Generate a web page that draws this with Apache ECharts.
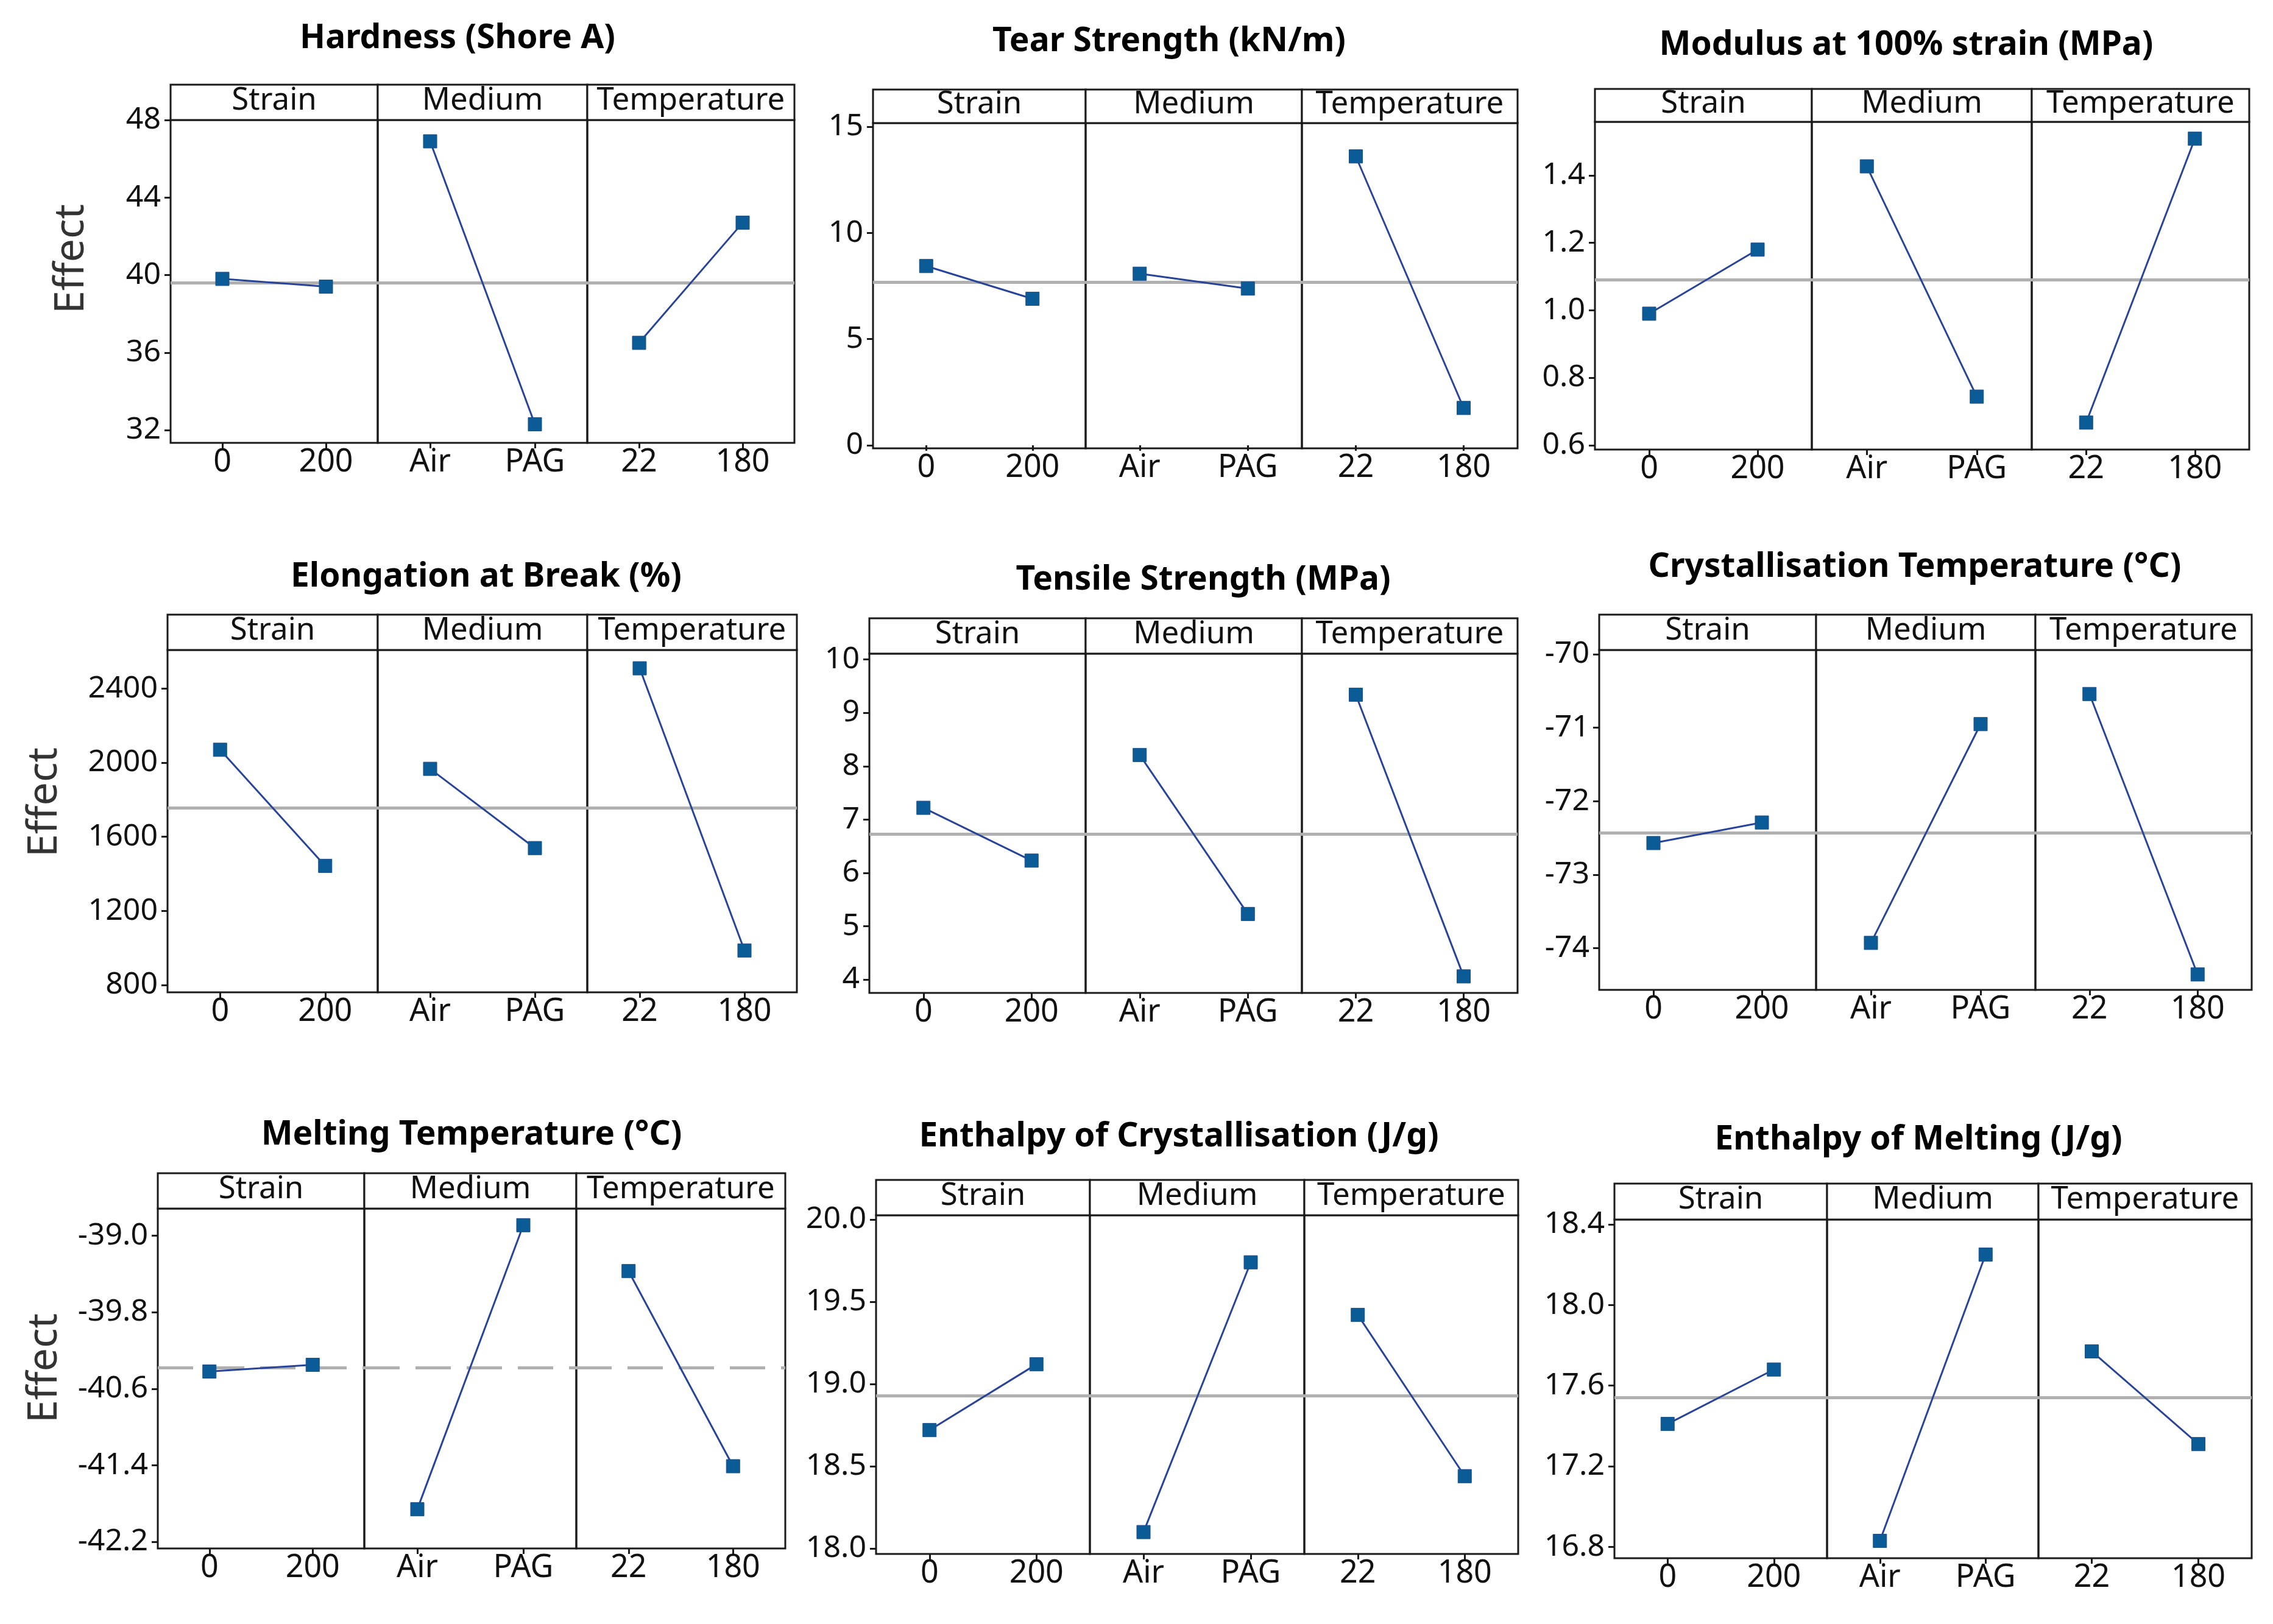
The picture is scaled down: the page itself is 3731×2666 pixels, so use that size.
<!DOCTYPE html>
<html><head><meta charset="utf-8">
<script src="https://cdn.jsdelivr.net/npm/echarts@6/dist/echarts.min.js"></script>
<style>html,body{margin:0;padding:0;background:#fff}#c{width:3731px;height:2666px}</style>
</head><body><div id="c"></div>
<script>
// ---------- data ----------
const factors = ['Strain', 'Medium', 'Temperature'];
const levels = [['0', '200'], ['Air', 'PAG'], ['22', '180']];
const titles = ['Hardness (Shore A)', 'Tear Strength (kN/m)', 'Modulus at 100% strain (MPa)',
  'Elongation at Break (%)', 'Tensile Strength (MPa)', 'Crystallisation Temperature (°C)',
  'Melting Temperature (°C)', 'Enthalpy of Crystallisation (J/g)', 'Enthalpy of Melting (J/g)'];
const hardness     = [[39.8, 39.4], [46.9, 32.3], [36.5, 42.7]];
const tearStrength = [[8.44, 6.9], [8.08, 7.38], [13.6, 1.76]];
const modulus100   = [[0.99, 1.18], [1.427, 0.744], [0.667, 1.509]];
const elongation   = [[2070, 1443], [1967, 1539], [2510, 986]];
const tensile      = [[7.22, 6.23], [8.21, 5.23], [9.34, 4.06]];
const crystTemp    = [[-72.57, -72.29], [-73.93, -70.95], [-70.54, -74.36]];
const meltTemp     = [[-40.42, -40.35], [-41.86, -38.89], [-39.37, -41.41]];
const enthCryst    = [[18.72, 19.12], [18.10, 19.74], [19.42, 18.44]];
const enthMelt     = [[17.41, 17.68], [16.83, 18.25], [17.77, 17.31]];
const means = [39.6, 7.68, 1.086, 1757, 6.73, -72.43, -40.38, 18.93, 17.54];
const yTicks = [[32, 36, 40, 44, 48], [0, 5, 10, 15], [0.6, 0.8, 1.0, 1.2, 1.4],
  [800, 1200, 1600, 2000, 2400], [4, 5, 6, 7, 8, 9, 10], [-74, -73, -72, -71, -70],
  [-42.2, -41.4, -40.6, -39.8, -39.0], [18.0, 18.5, 19.0, 19.5, 20.0], [16.8, 17.2, 17.6, 18.0, 18.4]];
const yMin = [31.34, -0.14, 0.587, 760, 3.75, -74.57, -42.27, 17.967, 16.744];
const yMax = [48.0, 15.17, 1.559, 2609, 10.11, -69.94, -38.716, 20.026, 18.424];
const yDecimals = [0, 0, 1, 0, 0, 0, 1, 1, 1];
const effects = [hardness, tearStrength, modulus100, elongation, tensile, crystTemp, meltTemp, enthCryst, enthMelt];

// ---------- layout (pixels) ----------
const layout = [
  {x: [280, 620, 964, 1304],   hTop: 139,  pTop: 197,  pBot: 727,  tx: 751,  ty: 63,   ex: 118, ey: 425},
  {x: [1433, 1782, 2137, 2491], hTop: 147,  pTop: 202,  pBot: 736,  tx: 1919, ty: 68},
  {x: [2618, 2974, 3335, 3692], hTop: 146,  pTop: 200,  pBot: 738,  tx: 3129, ty: 74},
  {x: [275, 620, 964, 1308],   hTop: 1009, pTop: 1067, pBot: 1629, tx: 798,  ty: 947,  ex: 74, ey: 1317},
  {x: [1427, 1782, 2137, 2491], hTop: 1015, pTop: 1073, pBot: 1630, tx: 1975, ty: 952},
  {x: [2625, 2981, 3341, 3696], hTop: 1009, pTop: 1067, pBot: 1625, tx: 3143, ty: 931},
  {x: [259, 598, 946, 1289],   hTop: 1926, pTop: 1984, pBot: 2542, tx: 774,  ty: 1863, ex: 74, ey: 2246},
  {x: [1438, 1789, 2141, 2492], hTop: 1937, pTop: 1995, pBot: 2551, tx: 1935, ty: 1866},
  {x: [2650, 2999, 3346, 3696], hTop: 1943, pTop: 2002, pBot: 2558, tx: 3149, ty: 1871}
];
const dashedMean = [false, false, false, false, false, false, true, false, false];

const FONT = '"Noto Sans", "Open Sans", sans-serif';
const grids = [], xAxes = [], yAxes = [], series = [], graphics = [];

layout.forEach((L, p) => {
  graphics.push({type: 'text', x: L.tx, y: L.ty, z: 10,
    style: {text: titles[p], font: 'bold 55px ' + FONT, fill: '#000', textAlign: 'center', textVerticalAlign: 'middle'}});
  if (L.ex !== undefined) {
    graphics.push({type: 'text', x: L.ex, y: L.ey, rotation: Math.PI / 2, z: 10,
      style: {text: 'Effect', font: '68px ' + FONT, fill: '#333', textAlign: 'center', textVerticalAlign: 'middle'}});
  }
  for (let f = 0; f < 3; f++) {
    const gi = p * 3 + f;
    const w = L.x[f + 1] - L.x[f];
    graphics.push({type: 'rect', z: 5,
      shape: {x: L.x[f], y: L.hTop, width: w, height: L.pTop - L.hTop},
      style: {fill: '#fff', stroke: '#1a1a1a', lineWidth: 3}});
    graphics.push({type: 'text', z: 6, x: L.x[f] + w / 2, y: (L.hTop + L.pTop) / 2 - 3,
      style: {text: factors[f], font: '51px ' + FONT, fill: '#111', textAlign: 'center', textVerticalAlign: 'middle'}});
    grids.push({left: L.x[f], top: L.pTop, width: w, height: L.pBot - L.pTop,
      show: true, borderColor: '#1a1a1a', borderWidth: 3, backgroundColor: 'transparent',
      containLabel: false, outerBoundsMode: 'none'});
    xAxes.push({gridIndex: gi, type: 'category', data: levels[f], boundaryGap: true,
      axisLine: {show: false},
      axisTick: {show: true, alignWithLabel: true, interval: 0, length: 9, lineStyle: {color: '#1a1a1a', width: 3}},
      axisLabel: {fontSize: 52, color: '#111', fontFamily: FONT, margin: 6, interval: 0},
      splitLine: {show: false}});
    const dec = yDecimals[p];
    yAxes.push({gridIndex: gi, type: 'value', min: yMin[p], max: yMax[p],
      axisLine: {show: false},
      axisTick: f === 0 ? {show: true, length: 10, customValues: yTicks[p], lineStyle: {color: '#1a1a1a', width: 3}} : {show: false},
      axisLabel: f === 0 ? {show: true, customValues: yTicks[p], fontSize: 50, color: '#111', fontFamily: FONT, margin: 16,
        formatter: v => Number(v).toFixed(dec)} : {show: false},
      splitLine: {show: false}});
    series.push({type: 'line', xAxisIndex: gi, yAxisIndex: gi, data: [], z: 1, silent: true,
      markLine: {silent: true, symbol: ['none', 'none'], label: {show: false},
        lineStyle: {color: '#b0b0b0', width: 5, type: dashedMean[p] ? [58, 26] : 'solid'},
        data: [{yAxis: means[p]}]}});
    series.push({type: 'line', xAxisIndex: gi, yAxisIndex: gi, data: effects[p][f], z: 5,
      symbol: 'rect', symbolSize: 22,
      itemStyle: {color: '#0b5b97', borderColor: '#1d4f8a', borderWidth: 1},
      lineStyle: {color: '#27449a', width: 3}});
  }
});

const chart = echarts.init(document.getElementById('c'), null, {width: 3731, height: 2666});
chart.setOption({
  animation: false,
  backgroundColor: '#fff',
  grid: grids, xAxis: xAxes, yAxis: yAxes, series: series, graphic: graphics
});
</script></body></html>
